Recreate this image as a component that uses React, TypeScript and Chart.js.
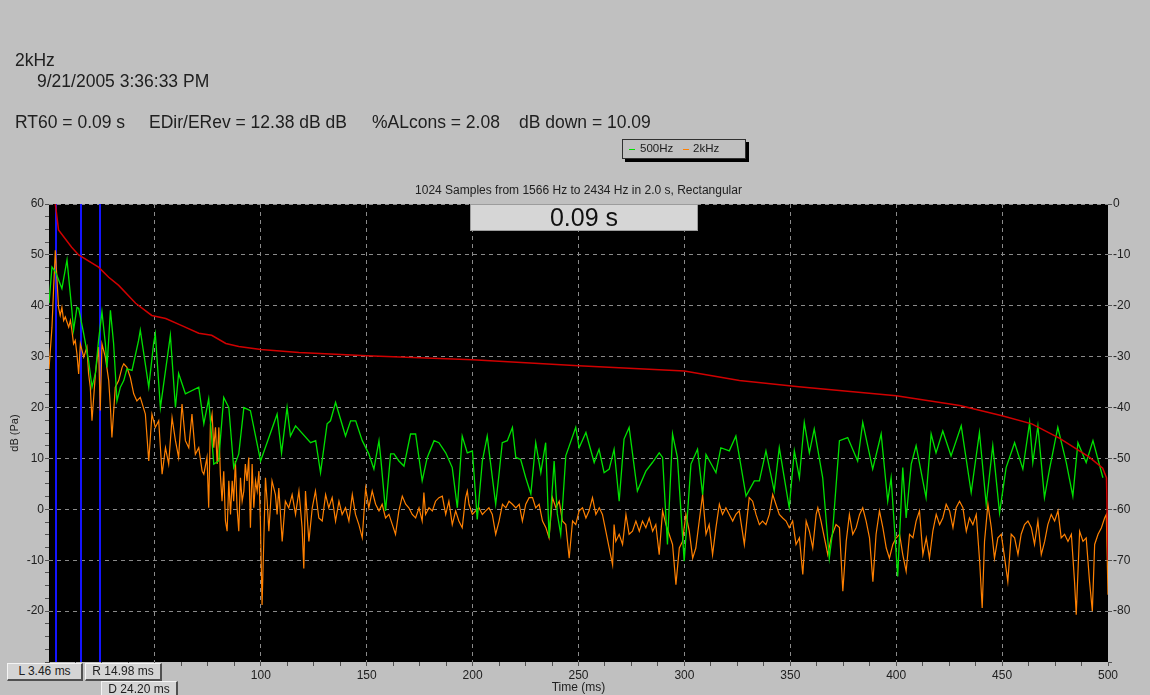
import React, { useEffect, useRef } from 'react';
import { Chart, registerables } from 'chart.js';
Chart.register(...registerables);

// ---- data (time in ms, level in dB) ----
const greenT = [0,1.4,3.0,3.7,6.1,8.5,10.8,11.6,13.2,14.0,16.4,18.7,20.3,21.9,23.4,25.0,26.6,27.4,29.0,30.5,32.1,33.7,35.3,36.8,39.2,42.3,43.1,47.1,49.4,50.2,52.6,57.3,59.7,61.2,64.4,70.7,73.1,75.4,77.8,80.1,82.5,84.9,87.2,89.6,92.0,95.1,99.9,107.7,109.8,112.4,114.0,116.4,123.5,125.9,128.2,131.3,132.9,135.3,140.0,142.4,144.8,147.9,151.0,153.4,155.8,156.6,158.9,161.3,162.9,165.2,167.6,170.7,173.1,176.2,178.6,181.8,184.1,187.3,190.4,192.8,195.1,197.5,199.9,202.2,204.6,206.9,210.9,212.5,214.0,216.4,218.8,220.4,222.7,225.1,227.5,229.8,232.2,234.5,236.1,238.5,240.0,241.6,244.0,248.7,250.3,253.5,257.4,259.7,262.1,264.5,266.8,269.2,271.5,273.9,277.8,281.8,284.9,288.1,289.7,292.0,294.4,296.7,299.9,303.1,306.2,308.6,310.2,314.9,317.2,321.2,324.3,329.1,333.0,335.4,338.5,342.4,344.8,349.5,351.9,354.3,356.6,359.0,361.3,365.3,368.4,370.0,373.2,377.1,381.8,384.2,388.9,392.9,396.0,397.6,400.7,403.1,404.7,407.1,409.4,414.1,416.5,418.8,422.0,425.9,430.7,435.4,439.3,442.5,445.6,448.8,451.9,455.9,459.8,463.0,464.5,466.9,470.0,472.4,476.3,480.3,483.4,485.8,489.7,492.9,497.6];
const greenV = [40.5,47.6,46.7,46,43.4,49,39.1,35.2,39.7,39.5,34.5,29.2,24,26.7,33.2,38.8,32.6,27.9,39.1,32.6,21.3,24,25.3,27.6,27.3,33.2,35.2,24,32.6,34.5,20,34.2,20,26.7,22.7,24,16.8,21.7,8.9,9.5,22,20,8.2,10.9,20,19.4,9.5,18.7,11.1,20,14.4,16.4,13.1,13.5,7.2,16.8,17.4,21,14.4,17.4,17.4,13.5,10.9,7.9,13.5,10.2,-0.3,10.9,10.9,9.5,8.5,14.8,14.8,5.6,10.2,13.5,13.1,11.1,8.2,0.3,14.4,11.1,11.5,-2,9.5,14.4,1,7,13.1,13.5,16.1,10.2,9.8,6.2,3,13.1,7.2,13.1,-5.6,9.5,-0.9,-4.9,10.5,16.1,12.1,15.1,9.2,11.8,7.2,7.9,11.8,1.6,13.8,16.1,3.6,7.5,9.2,11.1,10.2,-6.9,14.8,10.2,-10.2,8.9,11.8,2.9,10.8,7.2,12.1,11.5,14.4,2.6,5.6,5.6,11.5,3.6,12.1,0.3,11.5,6.2,17.1,11.1,15.8,6.2,-9.6,-4.3,13.5,14.1,9.5,17.1,7.9,14.8,1.6,6.2,-13.2,8.2,-1.7,8.9,12.5,2.3,14.8,11.1,15.4,10.5,16.4,3.3,15.1,1,12.5,-0.7,8.2,13.1,7.9,17.1,9.2,16.4,2.3,7.9,16.1,9.2,2.6,13.1,9.2,13.5,6.2];

// 2kHz trace: [time ms, dB]
const orangePts: [number, number][] = [
  [0,27.6],[1.4,35.8],[2.2,43.7],[3.0,50.9],[3.7,45.7],[4.5,39.7],[5.3,38.1],[6.1,39.7],[6.9,37.1],[7.7,37.8],
  [9.3,35.8],[10.1,37.1],[10.8,35.2],[11.6,32.5],[12.4,33.2],[13.2,30.5],[14.0,26.6],[14.8,32.5],[16.4,29.9],[17.9,31.9],
  [18.7,26.6],[19.5,24],[20.3,17.4],[21.9,26.6],[23.4,31.9],[24.2,19.4],[25.0,32.5],[26.6,29.9],[28.2,25.3],[29.0,20],
  [29.7,14.1],[31.3,24],[32.9,25.3],[34.5,27.9],[35.3,28.6],[36.8,27.9],[38.4,25.9],[40.0,22.7],[41.5,21.3],[43.1,22],
  [45.5,18.7],[47.1,9.5],[48.6,18.7],[50.2,16.1],[51.8,17.4],[53.4,6.9],[55.0,12.1],[56.5,8.9],[58.1,18],[59.7,13.5],
  [61.2,10.2],[62.8,20.7],[64.4,13.5],[66.0,12.1],[67.5,18.7],[69.1,10.8],
  [70.7,12.1],[72.3,7.5],[73.1,6.9],[74.6,10.2],[75.4,0.3],[76.2,16.7],[77.0,18.7],[77.8,12.1],[78.6,16.1],[79.4,8.9],
  [80.2,16.1],[80.9,6.9],[81.7,1.6],[82.5,7.5],[83.3,-2.3],[84.1,-4.3],[84.9,5.6],[85.7,-1],[86.5,5.6],[87.2,1.6],
  [88.0,9.5],[88.8,0.3],[89.6,-4.3],[90.4,6.2],[91.2,1.6],[92.0,3.6],[92.7,8.9],[93.5,5.6],[94.3,10.2],[95.1,-3.6],
  [95.9,8.9],[96.7,0.3],[97.5,5.6],[98.3,3.6],[99.1,7.5],[99.8,-2.3],[100.6,-18.8],[101.4,-6.3],[102.2,6.2],[103.0,1.6],
  [103.8,-4.3],[105.3,5.6],[106.9,2.9],[107.7,-1],[108.5,4.2],[110.1,-6.3],[111.6,1.6],[113.2,0.3],[114.8,2.9],[116.4,-1],
  [118.0,3.6],[119.5,-3.6],[120.3,-11.6],[121.1,3.6],[122.7,-6.3],[124.3,0.3],[125.8,3.6],[127.4,-1.7],[129.0,-2.3],[130.6,2.9],
  [132.1,0.3],[133.7,2.3],[135.3,-2.3],[136.9,1.6],[138.4,-1],[140.0,0.3],[141.6,-2.3],[143.2,2.9],[144.7,-1],[146.3,-3],
  [147.9,-5.6],[149.5,4.2],[151.0,0.3],[152.6,3.6],[154.2,1],[155.8,-0.3],[157.3,1],[158.9,-1.7],[160.5,-1],[162.1,-3],
  [163.6,-4.9],[165.2,-0.3],[166.8,2.6],[168.4,1],[169.9,0.3],[171.5,-1],[173.1,-1.7],[174.7,0.3],[176.2,-2.3],[177.0,3.3],
  [177.8,-1],[179.4,0.3],[181.0,-0.3],[182.5,1.6],[184.1,2.3],[185.7,2.6],[187.3,-1],[188.8,1.6],[190.4,-3],[192.0,-0.3],
  [193.5,-2.3],[195.1,-3.6],[196.7,2.3],[197.5,3.6],[198.3,1],[199.9,-1],[201.4,-0.3],[203.0,0.3],[204.6,-1],[206.2,-0.3],
  [207.7,0.3],[209.3,-1],[210.9,-4.9],[212.5,-2.3],
  [214.1,1],[215.7,0.3],[217.2,1.6],[218.8,1],[220.4,0.3],[222.0,1],[223.5,-2.3],[225.1,1],[226.7,2.3],[228.3,2.3],
  [229.8,0.3],[231.4,1],[233.0,-2.3],[234.6,-3.6],[236.1,-5.6],[237.7,2.3],[239.3,0.3],[240.9,1.6],[242.4,-2.3],[244.0,-3],
  [245.6,-9.6],[247.2,-2.3],[248.7,-3],[250.3,-0.3],[251.9,0.3],[253.5,-1.7],[255.0,-0.3],[256.6,2.3],[258.2,-1],[259.8,0.3],
  [261.3,-1],[262.9,-4.3],[264.5,-7.6],[266.1,-10.9],[266.8,-3],[267.6,-6.3],[269.2,-4.9],[270.8,-6.9],[272.4,-1],[273.9,-4.9],
  [275.5,-4.3],[277.1,-2.3],[278.7,-4.3],[280.2,-2.3],[281.8,-3.6],[283.4,-1.7],[285.0,-4.3],[286.5,-3],[288.1,-8.9],[289.7,-0.3],
  [291.3,-3],[292.8,-4.9],[294.4,-6.9],[296.0,-14.8],[297.6,-7.6],[299.1,-6.3],[300.7,-1],[302.3,-4.3],[303.9,-9.6],[305.4,-7.6],
  [307.0,-2.3],[308.6,2.9],[310.2,-4.9],[311.7,-3],[313.3,-8.9],[314.9,-3.6],[316.5,1],[318.0,-1],[319.6,0.3],[321.2,-1],
  [322.8,-2.3],[324.3,-1],[325.9,-0.3],[328.3,-6.9],[330.6,2.3],[332.2,1.6],[333.8,-1],[335.4,-3],[336.9,-2.3],[338.5,-3],
  [340.1,-1],[341.7,2.9],[343.2,1],[344.8,-1],[346.4,-1.7],[348.0,-2.3],[349.5,-3.6],[351.1,-2.3],[352.7,-6.9],[354.3,-5.6],
  [355.9,-12.8],[357.5,-2.3],[359.0,-4.3],[360.6,-7.6],[362.2,-1],[363.0,0.3],[364.5,-2.3],[366.1,-5.6],[367.7,-8.9],[369.3,-5.6],
  [371.6,-3],[373.2,-3.6],[374.8,-16.1],[376.4,-6.3],[377.9,-1],[379.5,-4.9],[381.1,-3.6],[382.7,-1],[384.2,0.3],[385.8,-2.3],
  [387.4,-5.6],[389.0,-14.2],[390.5,-4.9],[392.1,-0.3],[393.7,-3.6],[395.3,-7.6],[396.8,-9.6],[398.4,-6.9],[400.0,-5.6],[401.6,-4.9],
  [403.1,-8.9],[404.7,-12.2],[406.3,-4.9],[407.9,-5.6],[409.4,-2.3],[411.0,-0.3],[412.6,-8.9],[414.2,-5.6],[415.7,-9.6],[417.3,-4.3],
  [418.9,-1],[420.5,-3],[422.0,-1.7],[423.6,1],[425.2,-0.3],[426.8,-3.6],[428.3,0.3],[429.9,1.6],[431.5,0.3],[433.1,-4.3],
  [434.6,-1.7],[436.2,-3],[437.8,-1],[439.4,-10.2],[440.6,-19.4],[441.7,-6.3],[443.3,1],[444.9,-3.6],[446.4,-9.6],[448.0,-5.6],
  [449.6,-4.9],[451.2,-9.6],[452.7,-14.2],[454.3,-4.9],[455.9,-5.6],[457.5,-8.9],[459.0,-4.9],[460.6,-3],[462.2,-2.3],[463.8,-3.6],
  [465.3,-6.9],[466.9,-2.3],[468.5,-8.9],[470.1,-6.3],[471.6,-3],[473.2,-1],[474.8,-2.3],[476.4,-0.3],[477.9,-5.6],[479.5,-4.9],
  [481.1,-6.3],[482.7,-4.9],[484.2,-14.2],[485.0,-20.7],[486.6,-4.3],[488.2,-6.3],[489.7,-5.6],[491.3,-14.2],[492.6,-20],[493.7,-6.9],
  [495.3,-4.9],[496.9,-3.6],[498.4,-1.7],[499.2,-1],[500,-16.8]
];

// Schroeder decay (right axis, dB down)
const decayT = [3.0,4.5,10.7,14,23.4,28.2,32.9,40.9,48.5,55.1,62.7,70.7,76.8,83.5,89.6,100,118,150,200,250,300,326,354,400,430,450,464,477,491,497.5,499.3,500];
const decayV = [0,-5.1,-8.5,-10,-12.4,-14.4,-16,-19.5,-21.9,-22.5,-23.9,-25.4,-25.8,-27.4,-28,-28.6,-29.2,-29.8,-30.6,-31.8,-32.8,-34.7,-35.9,-37.7,-39.6,-41.6,-43.2,-46,-49.7,-51.9,-53.8,-70];

const cursorsMs = [3.46, 14.98, 24.20];
const cursorLabels = ['L 3.46 ms', 'R 14.98 ms', 'D 24.20 ms'];
const seriesNames = ['500Hz', '2kHz'];
const headerTitle = '2kHz';
const headerDate = '9/21/2005 3:36:33 PM';
const stats = ['RT60 = 0.09 s', 'EDir/ERev = 12.38 dB dB', '%ALcons = 2.08', 'dB down = 10.09'];
const subTitle = '1024 Samples from 1566 Hz to 2434 Hz in 2.0 s, Rectangular';
const rt60Text = '0.09 s';

const FONT = '"Liberation Sans", Arial, sans-serif';
const GREEN = '#00e000';
const ORANGE = '#ff8000';
const RED = '#d00000';
const GRID = '#8a8a8a';
const TXT = '#202020';

export default function App() {
  const ref = useRef<HTMLCanvasElement>(null);
  useEffect(() => {
    if (!ref.current) return;
    Chart.defaults.font.family = FONT;
    const plotBg = {
      id: 'plotBg',
      beforeDraw(chart: any) {
        const { ctx, chartArea: a } = chart;
        ctx.save();
        ctx.fillStyle = '#000';
        ctx.fillRect(a.left, a.top, a.right - a.left, a.bottom - a.top);
        ctx.restore();
      },
    };
    const cursors = {
      id: 'cursors',
      beforeDatasetsDraw(chart: any) {
        const { ctx, chartArea: a, scales } = chart;
        ctx.save();
        ctx.strokeStyle = '#1414ff';
        ctx.lineWidth = 2;
        cursorsMs.forEach((ms) => {
          const x = Math.round(scales.x.getPixelForValue(ms));
          ctx.beginPath();
          ctx.moveTo(x, a.top);
          ctx.lineTo(x, a.bottom);
          ctx.stroke();
        });
        ctx.restore();
      },
    };
    const isMul = (v: number, m: number) => Math.abs(v / m - Math.round(v / m)) < 1e-6;
    const tickFont = { family: FONT, size: 12 };
    const chart = new Chart(ref.current, {
      type: 'line',
      data: {
        datasets: [
          {
            label: 'decay',
            data: decayT.map((t, i) => ({ x: t, y: decayV[i] })),
            yAxisID: 'y2',
            borderColor: RED,
            borderWidth: 1.5,
            pointRadius: 0,
          },
          {
            label: seriesNames[0],
            data: greenT.map((t, i) => ({ x: t, y: greenV[i] })),
            yAxisID: 'y',
            borderColor: GREEN,
            borderWidth: 1.3,
            pointRadius: 0,
          },
          {
            label: seriesNames[1],
            data: orangePts.map(([t, v]) => ({ x: t, y: v })),
            yAxisID: 'y',
            borderColor: ORANGE,
            borderWidth: 1.2,
            pointRadius: 0,
          },
        ],
      },
      options: {
        responsive: false,
        animation: false,
        devicePixelRatio: 1,
        layout: { padding: { top: 204, left: 0, right: 0, bottom: 0 } },
        elements: { line: { tension: 0 }, point: { radius: 0 } },
        plugins: { legend: { display: false }, tooltip: { enabled: false }, title: { display: false } },
        scales: {
          x: {
            type: 'linear',
            min: 0,
            max: 500,
            afterFit(s: any) { s.height = 33; },
            ticks: {
              stepSize: 12.5,
              autoSkip: false,
              maxRotation: 0,
              padding: 2,
              color: TXT,
              font: tickFont,
              callback: (v: any) => (isMul(v, 50) ? String(v) : ''),
            },
            grid: {
              color: (c: any) => {
                const v = c.tick ? c.tick.value : NaN;
                return isMul(v, 50) && v > 0 && v < 500 ? GRID : 'transparent';
              },
              tickColor: '#505050',
              tickLength: 4,
              lineWidth: 1,
            },
            border: { display: false, dash: [4, 4] },
            title: { display: true, text: 'Time (ms)', padding: 0, color: TXT, font: { family: FONT, size: 12 } },
          },
          y: {
            position: 'left',
            min: -30,
            max: 60,
            afterFit(s: any) { s.width = 49; },
            ticks: {
              stepSize: 2.5,
              autoSkip: false,
              padding: 1,
              color: TXT,
              font: tickFont,
              callback: (v: any) => (isMul(v, 10) && v > -30 ? String(v) : ''),
            },
            grid: {
              color: (c: any) => {
                const v = c.tick ? c.tick.value : NaN;
                return isMul(v, 10) && v > -30 ? GRID : 'transparent';
              },
              tickColor: '#505050',
              tickLength: 4,
              lineWidth: 1,
            },
            border: { display: false, dash: [4, 4] },
            title: { display: true, text: 'dB (Pa)', padding: { top: 8, bottom: 0 }, color: TXT, font: { family: FONT, size: 11 } },
          },
          y2: {
            position: 'right',
            min: -90,
            max: 0,
            afterFit(s: any) { s.width = 42; },
            ticks: {
              stepSize: 10,
              autoSkip: false,
              padding: 1,
              color: TXT,
              font: tickFont,
              callback: (v: any) => (v <= -90 ? '' : String(v)),
            },
            grid: { drawOnChartArea: false, tickColor: '#505050', tickLength: 4 },
            border: { display: false },
          },
        },
      } as any,
      plugins: [plotBg, cursors],
    });
    return () => chart.destroy();
  }, []);

  const abs = (o: React.CSSProperties): React.CSSProperties => ({ position: 'absolute', whiteSpace: 'pre', fontFamily: FONT, color: TXT, ...o });
  const btn = (o: React.CSSProperties): React.CSSProperties =>
    abs({
      background: '#d4d4d4',
      borderTop: '1px solid #f4f4f4',
      borderLeft: '1px solid #f4f4f4',
      borderRight: '2px solid #505050',
      borderBottom: '2px solid #505050',
      fontSize: 12,
      lineHeight: '15px',
      textAlign: 'center',
      boxSizing: 'border-box',
      ...o,
    });
  const statLeft = [15, 149, 372, 519];

  return (
    <div style={{ position: 'fixed', left: 0, top: 0, width: 1150, height: 695, background: '#c0c0c0', overflow: 'hidden' }}>
      <canvas ref={ref} width={1150} height={695} style={{ position: 'absolute', left: 0, top: 0, width: 1150, height: 695 }} />
      <div style={abs({ left: 15, top: 52, fontSize: 17.5, lineHeight: '17.5px' })}>{headerTitle}</div>
      <div style={abs({ left: 37, top: 73, fontSize: 17.5, lineHeight: '17.5px' })}>{headerDate}</div>
      {stats.map((s, i) => (
        <div key={s} style={abs({ left: statLeft[i], top: 114, fontSize: 17.5, lineHeight: '17.5px' })}>{s}</div>
      ))}
      <div style={abs({ left: 622, top: 139, width: 122, height: 18, border: '1px solid #303030', boxShadow: '3px 3px 0 #000', background: '#c0c0c0' })}>
        <div style={abs({ left: 6, top: 9, width: 6, height: 1, background: GREEN })} />
        <div style={abs({ left: 17, top: 2, fontSize: 11.5, lineHeight: '13px' })}>{seriesNames[0]}</div>
        <div style={abs({ left: 60, top: 9, width: 6, height: 1, background: ORANGE })} />
        <div style={abs({ left: 70, top: 2, fontSize: 11.5, lineHeight: '13px' })}>{seriesNames[1]}</div>
      </div>
      <div style={abs({ left: 0, width: 1157, top: 184, fontSize: 12, lineHeight: '12px', textAlign: 'center' })}>{subTitle}</div>
      <div style={abs({ left: 470, top: 204, width: 228, height: 27, boxSizing: 'border-box', background: '#d6d6d6', border: '1px solid #9c9c9c', fontSize: 25, lineHeight: '25px', textAlign: 'center', color: '#111' })}>{rt60Text}</div>
      <div style={btn({ left: 7, top: 663, width: 76, height: 18 })}>{cursorLabels[0]}</div>
      <div style={btn({ left: 85, top: 663, width: 77, height: 18 })}>{cursorLabels[1]}</div>
      <div style={btn({ left: 101, top: 681, width: 77, height: 18 })}>{cursorLabels[2]}</div>
    </div>
  );
}
